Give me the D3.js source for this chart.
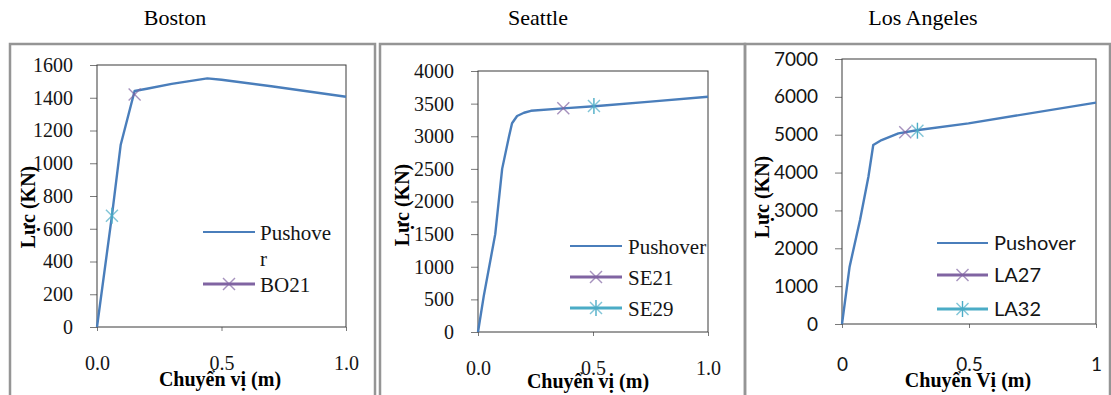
<!DOCTYPE html>
<html>
<head>
<meta charset="utf-8">
<script src="https://cdn.jsdelivr.net/npm/d3@7"></script>
<style>
  body { margin: 0; background: #fff; }
  svg { display: block; }
</style>
</head>
<body>
<div id="chart"></div>
<script>
// pushover curves
const bostonDisp  = [0, 0.06, 0.095, 0.151, 0.2, 0.3, 0.443, 0.5, 0.7, 1.0];
const bostonForce = [0, 680, 1111, 1441, 1455, 1485, 1518, 1510, 1470, 1406];
const seattleDisp  = [0, 0.025, 0.075, 0.105, 0.135, 0.148, 0.17, 0.2, 0.23, 0.37, 0.52, 0.75, 1.0];
const seattleForce = [0, 550, 1500, 2500, 3000, 3200, 3310, 3360, 3390, 3428, 3463, 3530, 3606];
const laDisp  = [0, 0.03, 0.071, 0.104, 0.123, 0.156, 0.222, 0.301, 0.498, 1.0];
const laForce = [0, 1514, 2747, 3891, 4728, 4860, 5036, 5124, 5300, 5846];

// earthquake points on the curves
const bostonPoints  = [{name: 'BO21', x: 0.151, y: 1420, type: 'x'}, {name: 'BO29', x: 0.06, y: 680, type: 'star'}];
const seattlePoints = [{name: 'SE21', x: 0.371, y: 3428, type: 'x'}, {name: 'SE29', x: 0.504, y: 3463, type: 'star'}];
const laPoints      = [{name: 'LA27', x: 0.249, y: 5063, type: 'x'}, {name: 'LA32', x: 0.297, y: 5106, type: 'star'}];

const xTicks = [0, 0.5, 1];
const bostonYTicks  = [0, 200, 400, 600, 800, 1000, 1200, 1400, 1600];
const seattleYTicks = [0, 500, 1000, 1500, 2000, 2500, 3000, 3500, 4000];
const laYTicks      = [0, 1000, 2000, 3000, 4000, 5000, 6000, 7000];

const titles = ['Boston', 'Seattle', 'Los Angeles'];

const lineColor = '#4a7ebb';
const purple = '#8064a2';
const cyan = '#4bacc6';
const serif = '"Liberation Serif", "Times New Roman", serif';
const sans = 'Lato, "Liberation Sans", sans-serif';

const width = 1111, height = 395;

const svg = d3.select('#chart').append('svg')
  .attr('width', width)
  .attr('height', height);

svg.append('rect').attr('width', width).attr('height', height).attr('fill', '#fff');

const panels = [
  {title: titles[0], disp: bostonDisp, force: bostonForce, pts: bostonPoints, yTicks: bostonYTicks, yMax: 1600,
   box: 10, titleX: 175, l: 97, t: 65, r: 346, b: 327, font: serif, size: 20, xfmt: d3.format('.1f'),
   xPad: 25, xTitle: 'Chuyển vị (m)', xTitleX: 220, xTitleY: 386, yTitleX: 35, yTitleY: 207,
   legend: {x1: 203, x2: 255, tx: 260, rows: [
     {label: ['Pushove', 'r'], y: 232, dy: [8, 34], color: lineColor, w: 2},
     {label: ['BO21'], y: 284, dy: [8], color: purple, w: 3, mark: 'x'}]}},
  {title: titles[1], disp: seattleDisp, force: seattleForce, pts: seattlePoints, yTicks: seattleYTicks, yMax: 4000,
   box: 380, titleX: 538, l: 478, t: 71, r: 708, b: 332, font: serif, size: 20, xfmt: d3.format('.1f'),
   xPad: 25, xTitle: 'Chuyển vị (m)', xTitleX: 588, xTitleY: 388, yTitleX: 409, yTitleY: 205,
   legend: {x1: 570, x2: 622, tx: 628, rows: [
     {label: ['Pushover'], y: 246, dy: [8], color: lineColor, w: 2},
     {label: ['SE21'], y: 277, dy: [8], color: purple, w: 3, mark: 'x'},
     {label: ['SE29'], y: 308, dy: [8], color: cyan, w: 3, mark: 'star'}]}},
  {title: titles[2], disp: laDisp, force: laForce, pts: laPoints, yTicks: laYTicks, yMax: 7000,
   box: 745, titleX: 923, l: 842, t: 59, r: 1096, b: 324, font: sans, size: 19, xfmt: d => String(d),
   xPad: 30, xTitle: 'Chuyển Vị (m)', xTitleX: 968, xTitleY: 387, yTitleX: 769, yTitleY: 197,
   legend: {x1: 937, x2: 988, tx: 994, rows: [
     {label: ['Pushover'], y: 243, dy: [7], color: lineColor, w: 2},
     {label: ['LA27'], y: 275, dy: [7], color: purple, w: 3, mark: 'x'},
     {label: ['LA32'], y: 309, dy: [7], color: cyan, w: 3, mark: 'star'}]}}
];

function drawMark(g, type, cx, cy, color) {
  const s = 6;
  const m = g.append('g').attr('stroke', color).attr('stroke-width', 1.4).attr('stroke-opacity', 0.7);
  m.append('line').attr('x1', cx - s).attr('y1', cy - s).attr('x2', cx + s).attr('y2', cy + s);
  m.append('line').attr('x1', cx - s).attr('y1', cy + s).attr('x2', cx + s).attr('y2', cy - s);
  if (type === 'star') {
    m.append('line').attr('x1', cx).attr('y1', cy - s - 2).attr('x2', cx).attr('y2', cy + s + 2)
      .attr('stroke-opacity', 1);
  }
}

panels.forEach(p => {
  // outer frame
  svg.append('rect')
    .attr('x', p.box).attr('y', 44)
    .attr('width', 365).attr('height', 380)
    .attr('fill', 'none').attr('stroke', '#959595').attr('stroke-width', 2.5);

  svg.append('text')
    .attr('x', p.titleX).attr('y', 25)
    .attr('text-anchor', 'middle')
    .style('font-family', serif).style('font-size', '22px')
    .text(p.title);

  const x = d3.scaleLinear().domain([0, 1]).range([p.l, p.r]);
  const y = d3.scaleLinear().domain([0, p.yMax]).range([p.b, p.t]);

  const yAxis = svg.append('g')
    .attr('transform', `translate(${p.l},0)`)
    .call(d3.axisLeft(y).tickValues(p.yTicks).tickFormat(d3.format('d'))
      .tickSize(7).tickSizeOuter(0).tickPadding(17));
  const xAxis = svg.append('g')
    .attr('transform', `translate(0,${p.b})`)
    .call(d3.axisBottom(x).tickValues(xTicks).tickFormat(p.xfmt).tickSize(4).tickSizeOuter(0).tickPadding(p.xPad));

  [yAxis, xAxis].forEach(a => {
    a.select('.domain').remove();
    a.selectAll('.tick line').attr('stroke', '#7a7a7a');
    a.selectAll('.tick text')
      .attr('fill', '#151515')
      .style('font-family', p.font)
      .style('font-size', p.size + 'px');
  });

  // plot area border
  svg.append('rect')
    .attr('x', p.l).attr('y', p.t)
    .attr('width', p.r - p.l).attr('height', p.b - p.t)
    .attr('fill', 'none').attr('stroke', '#3a3a3a').attr('stroke-width', 1);

  const line = d3.line().x(d => x(d[0])).y(d => y(d[1]));
  svg.append('path')
    .datum(d3.zip(p.disp, p.force))
    .attr('d', line)
    .attr('fill', 'none')
    .attr('stroke', lineColor)
    .attr('stroke-width', 2.4)
    .attr('stroke-linejoin', 'round');

  const marks = svg.append('g');
  p.pts.forEach(pt => drawMark(marks, pt.type, x(pt.x), y(pt.y), pt.type === 'x' ? purple : cyan));

  // legend
  const lg = svg.append('g');
  p.legend.rows.forEach(row => {
    lg.append('line')
      .attr('x1', p.legend.x1).attr('x2', p.legend.x2)
      .attr('y1', row.y).attr('y2', row.y)
      .attr('stroke', row.color).attr('stroke-width', row.w);
    if (row.mark) drawMark(lg, row.mark, (p.legend.x1 + p.legend.x2) / 2, row.y, row.color);
    row.label.forEach((t, i) => {
      lg.append('text')
        .attr('x', p.legend.tx).attr('y', row.y + row.dy[i])
        .attr('fill', '#151515')
        .style('font-family', p.font)
        .style('font-size', (p.size + 1) + 'px')
        .text(t);
    });
  });

  // axis titles
  svg.append('text')
    .attr('x', p.xTitleX).attr('y', p.xTitleY)
    .attr('text-anchor', 'middle')
    .style('font-family', serif).style('font-size', '20px').style('font-weight', 'bold')
    .text(p.xTitle);
  svg.append('text')
    .attr('transform', `translate(${p.yTitleX},${p.yTitleY}) rotate(-90)`)
    .attr('text-anchor', 'middle')
    .style('font-family', serif).style('font-size', '20px').style('font-weight', 'bold')
    .text('Lực (KN)');
});
</script>
</body>
</html>
